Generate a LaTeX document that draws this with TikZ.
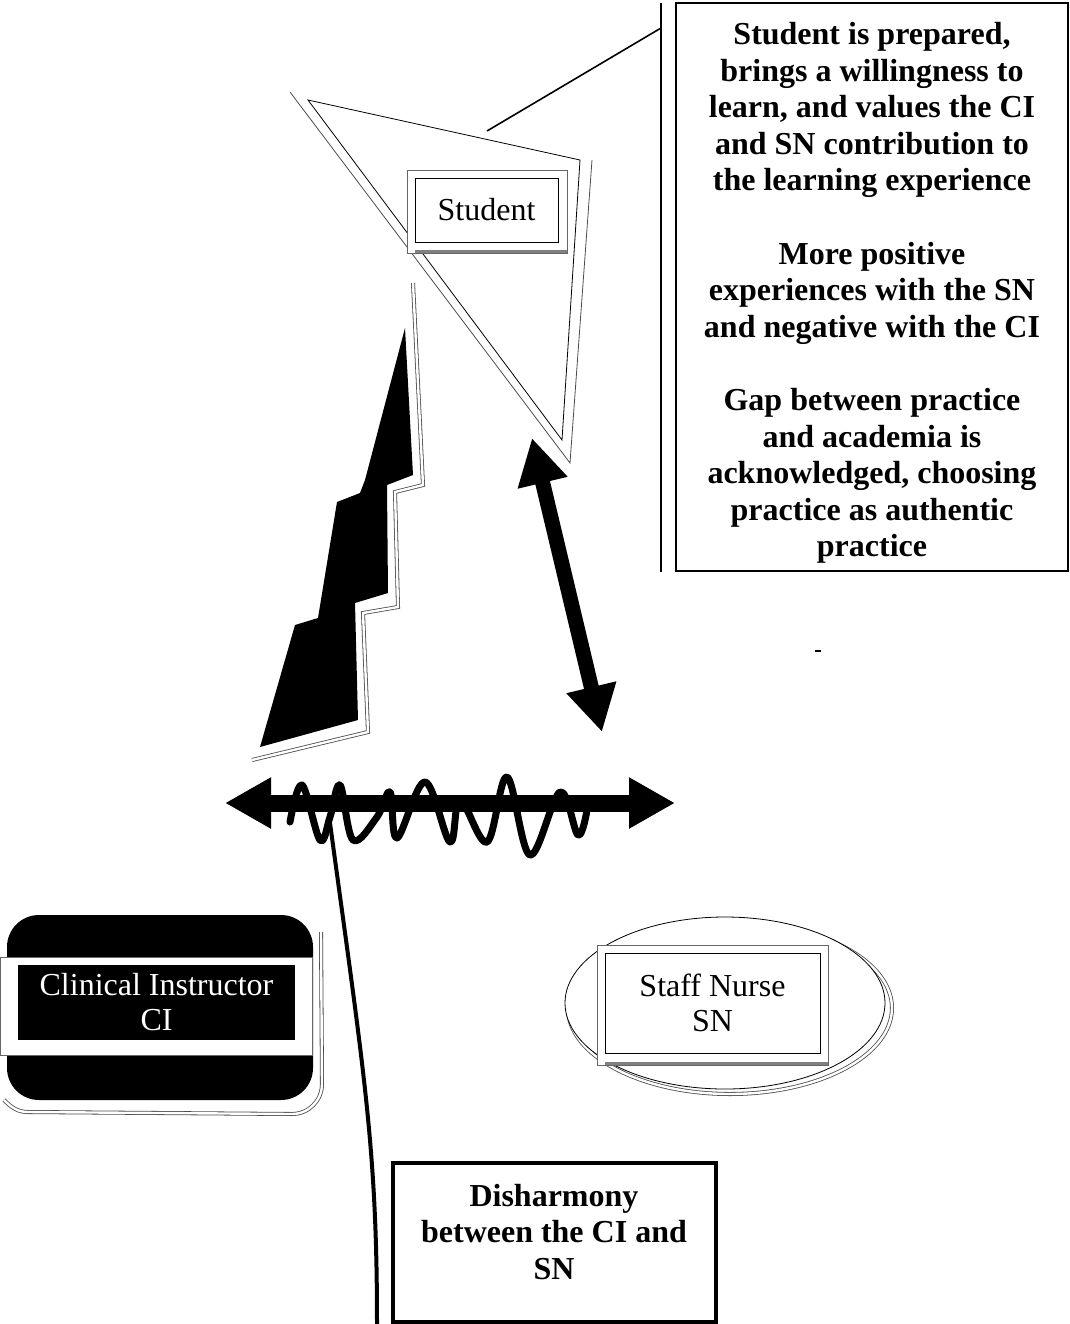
\documentclass[tikz,border=0pt]{standalone}
\usepackage{fontspec}
\setmainfont{Liberation Serif}
\usetikzlibrary{arrows.meta}

\begin{document}
\begin{tikzpicture}[x=0.5pt, y=-0.5pt,
    label text/.style={font=\fontsize{16}{17.5}\selectfont, align=center},
    bold text/.style={font=\bfseries\fontsize{16}{18.3}\selectfont, align=center},
    shadow line/.style={double, double distance=1.2pt, line width=0.4pt, black!70},
    fat tips/.style={{Triangle[length=23pt, width=24pt]}-{Triangle[length=23pt, width=24pt]}}]
  \useasboundingbox (0, 0) rectangle (1070, 1324);

  % notes at the top right
  \draw[line width=0.8pt] (661, 3) coordinate (rule top) -- (661, 572)
                          (676, 3) rectangle (1068, 571);
  \node (notes) [bold text] at (872, 293) {Student is prepared,\\ brings a willingness to\\
        learn, and values the CI\\ and SN contribution to\\ the learning experience\\[18.3pt]
        More positive\\ experiences with the SN\\ and negative with the CI\\[18.3pt]
        Gap between practice\\ and academia is\\ acknowledged, choosing\\
        practice as authentic\\ practice};

  % student triangle
  \draw[thin] (308, 100) -- (580, 160) -- (562, 440) -- cycle;
  \draw[thin, black!70] (290, 92) -- (570, 463) -- (592, 160);
  \coordinate (callout) at (487, 131);
  \coordinate (rule hit) at (661, 28);
  \draw[line width=0.8pt] (callout) -- (rule hit);
  \draw[black!60, fill=white] (407, 170) rectangle (567, 253);
  \draw (415, 178) rectangle (558, 242) node (student) [pos=.5, label text] {Student};
  \draw[black!50, line width=1.5pt] (415, 251) -- (567, 251);

  % stepped black shape
  \fill (405, 328) -- (365, 480) -- (360, 493) -- (337, 502) -- (318, 618) -- (295, 625)
        -- (260, 747) -- (358, 720) -- (355, 603) -- (388, 593) -- (387, 485)
        -- (413, 475) -- cycle;
  \draw[shadow line] (413, 283) -- (423, 485) -- (395, 492) -- (398, 607) -- (363, 613)
        -- (368, 732) -- (252, 760);

  % arrows
  \coordinate (up tip) at (532, 438);
  \coordinate (down tip) at (602, 732);
  \draw[line width=7.5pt, fat tips] (up tip) -- (down tip);
  \coordinate (left tip) at (225, 803);
  \coordinate (right tip) at (675, 803);
  \draw[line width=8.5pt, fat tips] (left tip) -- (right tip);
  \draw[line width=3.5pt, line cap=round, line join=round]
        plot[smooth, tension=0.6] coordinates {(290, 822) (302, 785) (320, 840) (330, 817)
        (340, 785) (353, 840) (377, 817) (390, 792) (397, 838) (425, 782) (450, 842)
        (460, 800) (487, 842) (507, 777) (530, 855) (560, 792) (578, 835) (587, 810)};

  % clinical instructor
  \draw[shadow line] (321, 932) -- (322, 1084) to[out=-90, in=0] (292, 1114)
        -- (28, 1112) to[out=180, in=-45] (4, 1100);
  \fill[rounded corners=16pt] (7, 915) rectangle (313, 1100);
  \draw[black!60, fill=white] (0, 957) rectangle (312, 1055);
  \fill (18, 965) rectangle (295, 1040) node (ci) [pos=.5, label text, text=white]
        {Clinical Instructor\\ CI};

  % staff nurse
  \draw[shadow line] (730, 1008) ellipse [x radius=162, y radius=86];
  \draw[fill=white] (725, 1003) ellipse [x radius=160, y radius=86];
  \draw[black!60, fill=white] (597, 945) rectangle (828, 1065);
  \draw (605, 953) rectangle (820, 1053) node (sn) [pos=.5, label text] {Staff Nurse\\ SN};
  \draw[black!50, line width=1.5pt] (605, 1063) -- (828, 1063);

  % disharmony
  \coordinate (wave foot) at (330, 823);
  \coordinate (page foot) at (377, 1324);
  \draw[line width=2pt] (wave foot) .. controls (365, 1080) and (377, 1150) .. (page foot);
  \draw[line width=2pt] (393, 1163) rectangle (716, 1322);
  \node (dis) [bold text] at (554, 1232) {Disharmony\\ between the CI and\\ SN};

  \draw[line width=1.2pt] (815, 651) -- (821, 651);
\end{tikzpicture}
\end{document}
